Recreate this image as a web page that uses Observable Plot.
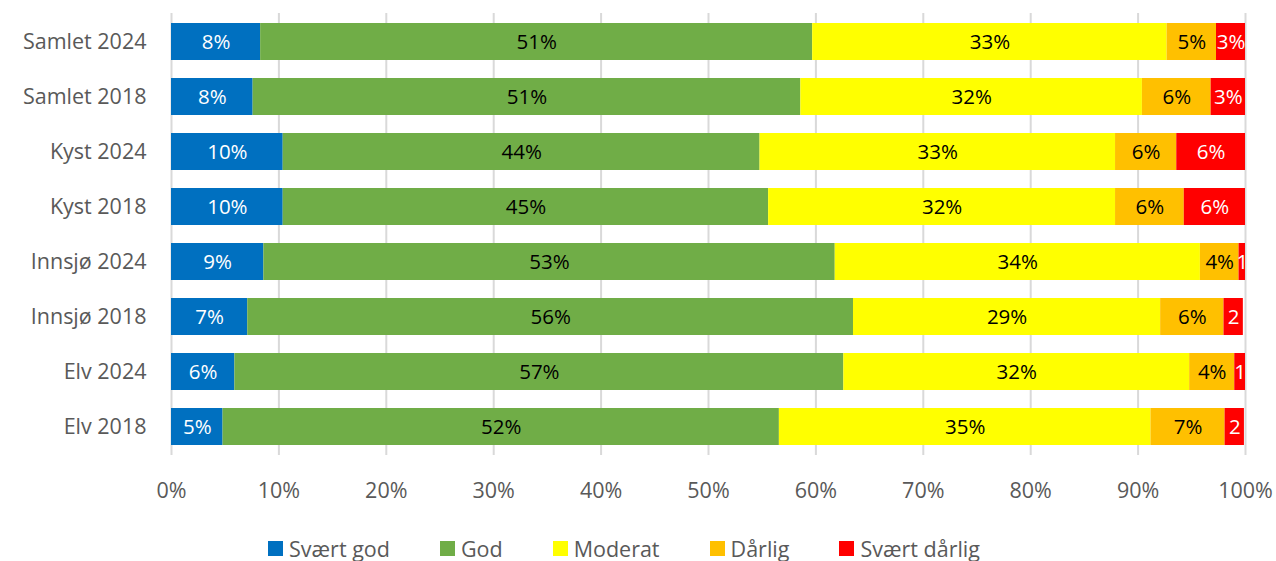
<!DOCTYPE html>
<html><head><meta charset="utf-8">
<script src="https://cdn.jsdelivr.net/npm/d3@7"></script>
<script src="https://cdn.jsdelivr.net/npm/@observablehq/plot@0.6"></script>
<style>
body{margin:0;background:#fff;font-family:"Open Sans",sans-serif;}
#legend{display:flex;justify-content:center;gap:0 50px;margin-top:4px;font-size:21.5px;color:#595959;padding-right:28px;}
#legend span.it{display:flex;align-items:center;}
#legend i{display:inline-block;width:15px;height:15px;margin-right:6px;}
</style></head><body>
<div id="chart"></div>
<div id="legend"></div>
<script>
const categories = ["Samlet 2024","Samlet 2018","Kyst 2024","Kyst 2018","Innsjø 2024","Innsjø 2018","Elv 2024","Elv 2018"];
const seriesNames = ["Svært god","God","Moderat","Dårlig","Svært dårlig"];
const colors = ["#0070C0","#70AD47","#FFFF00","#FFC000","#FF0000"];
const svaertGod   = [8.3, 7.6, 10.4, 10.4, 8.6, 7.1, 5.9, 4.8];
const god         = [51.4, 51.0, 44.4, 45.2, 53.2, 56.4, 56.7, 51.8];
const moderat     = [33.0, 31.8, 33.1, 32.3, 34.0, 28.6, 32.2, 34.6];
const daarlig     = [4.6, 6.4, 5.7, 6.4, 3.6, 5.9, 4.2, 6.9];
const svaertDaarlig = [2.7, 3.2, 6.4, 5.7, 0.6, 1.8, 1.0, 1.8];
const xTicks = [0,10,20,30,40,50,60,70,80,90,100];

const seriesValues = [svaertGod, god, moderat, daarlig, svaertDaarlig];
const data = [];
categories.forEach((c, i) => seriesNames.forEach((s, j) => data.push({cat: c, series: s, value: seriesValues[j][i], si: j})));
const textColor = d => (d.si === 0 || d.si === 4) ? "#ffffff" : "#000000";
const label = d => Math.round(d.value) + (d.value < 2.5 ? "" : "%");

const H = 530;
const plot = Plot.plot({
  width: 1276, height: H,
  marginLeft: 171, marginRight: 31, marginTop: 13, marginBottom: H - 455,
  style: {fontFamily: "'Open Sans', sans-serif", background: "#fff"},
  x: {domain: [0, 100]},
  y: {domain: categories, paddingInner: 0.336, paddingOuter: 0.168},
  color: {domain: seriesNames, range: colors},
  marks: [
    Plot.ruleX(xTicks, {stroke: "#d9d9d9", strokeWidth: 2}),
    Plot.barX(data, Plot.stackX({x: "value", y: "cat", fill: "series", order: seriesNames})),
    Plot.text(data, Plot.stackX({x: "value", y: "cat", z: "series", order: seriesNames, text: label, fill: textColor, fontSize: 20.5})),
    Plot.axisY({tickSize: 0, tickPadding: 25, fontSize: 21.5, color: "#595959", label: null}),
    Plot.axisX({ticks: xTicks, tickSize: 0, tickPadding: 27, fontSize: 21.5, color: "#595959", tickFormat: d => d + "%", label: null})
  ]
});
document.getElementById("chart").appendChild(plot);
const lg = document.getElementById("legend");
seriesNames.forEach((s, j) => {
  const it = document.createElement("span"); it.className = "it";
  it.innerHTML = `<i style="background:${colors[j]}"></i>${s}`;
  lg.appendChild(it);
});
</script>
</body></html>
